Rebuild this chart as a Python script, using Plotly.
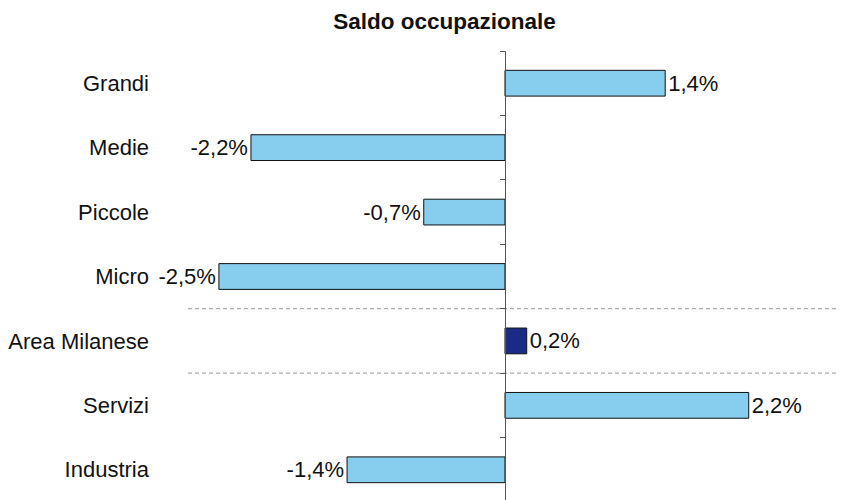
import plotly.graph_objects as go

categories = ["Grandi", "Medie", "Piccole", "Micro", "Area Milanese", "Servizi", "Industria"]
values = [1.40, -2.22, -0.71, -2.50, 0.19, 2.13, -1.38]
value_labels = ["1,4%", "-2,2%", "-0,7%", "-2,5%", "0,2%", "2,2%", "-1,4%"]
highlight = "Area Milanese"
title_text = "<b>Saldo occupazionale</b>"

LIGHT = "#87CEEE"
DARK = "#1A2A85"
FONT = "Liberation Sans"

colors = [DARK if c == highlight else LIGHT for c in categories]

x_min, x_max = -2.77, 2.98
n = len(categories)
y_range = [n - 0.5, -0.5]

fig = go.Figure()
fig.add_trace(go.Bar(
    y=categories, x=values, orientation="h",
    marker=dict(color=colors, line=dict(color="#111111", width=1)),
    width=0.4,
    text=value_labels, textposition="outside", cliponaxis=False,
    constraintext="none",
    textfont=dict(family=FONT, size=22, color="#111111"),
    hoverinfo="skip",
))
# invisible companion trace so the centre axis (yaxis2) is drawn
fig.add_trace(go.Scatter(
    x=values, y=list(range(n)), yaxis="y2", mode="markers",
    marker=dict(opacity=0), hoverinfo="skip", showlegend=False,
))

hi = categories.index(highlight)
for b in (hi - 0.5, hi + 0.5):
    fig.add_shape(type="line", xref="paper", yref="y", x0=0, x1=1, y0=b, y1=b,
                  line=dict(color="#9a9a9a", width=1, dash="4px,3px"), layer="below")

fig.update_layout(
    width=846, height=500,
    margin=dict(l=180, r=8, t=43, b=6, autoexpand=False),
    paper_bgcolor="white", plot_bgcolor="white",
    showlegend=False,
    title=dict(text=title_text, x=436.5 / 846, xanchor="center", xref="container",
               y=1 - 5 / 500, yanchor="top", yref="container", pad=dict(t=0),
               font=dict(family=FONT, size=22.5, color="#111111")),
    xaxis=dict(range=[x_min, x_max], showticklabels=False, showgrid=False,
               zeroline=False, showline=False, ticks="", automargin=False),
    yaxis=dict(range=y_range, type="category", showgrid=False, zeroline=False,
               showline=False, ticks="", ticklabelstandoff=38, automargin=False,
               tickfont=dict(family=FONT, size=22, color="#111111")),
    yaxis2=dict(overlaying="y", anchor="free", side="left",
                position=(0 - x_min) / (x_max - x_min),
                range=y_range, type="linear", automargin=False,
                tickmode="array", tickvals=[i - 0.5 for i in range(n + 1)],
                ticks="outside", ticklen=5, tickcolor="#555555", tickwidth=1,
                showline=True, linecolor="#555555", linewidth=1,
                showticklabels=False, showgrid=False, zeroline=False),
)

fig.write_html("out.html")
